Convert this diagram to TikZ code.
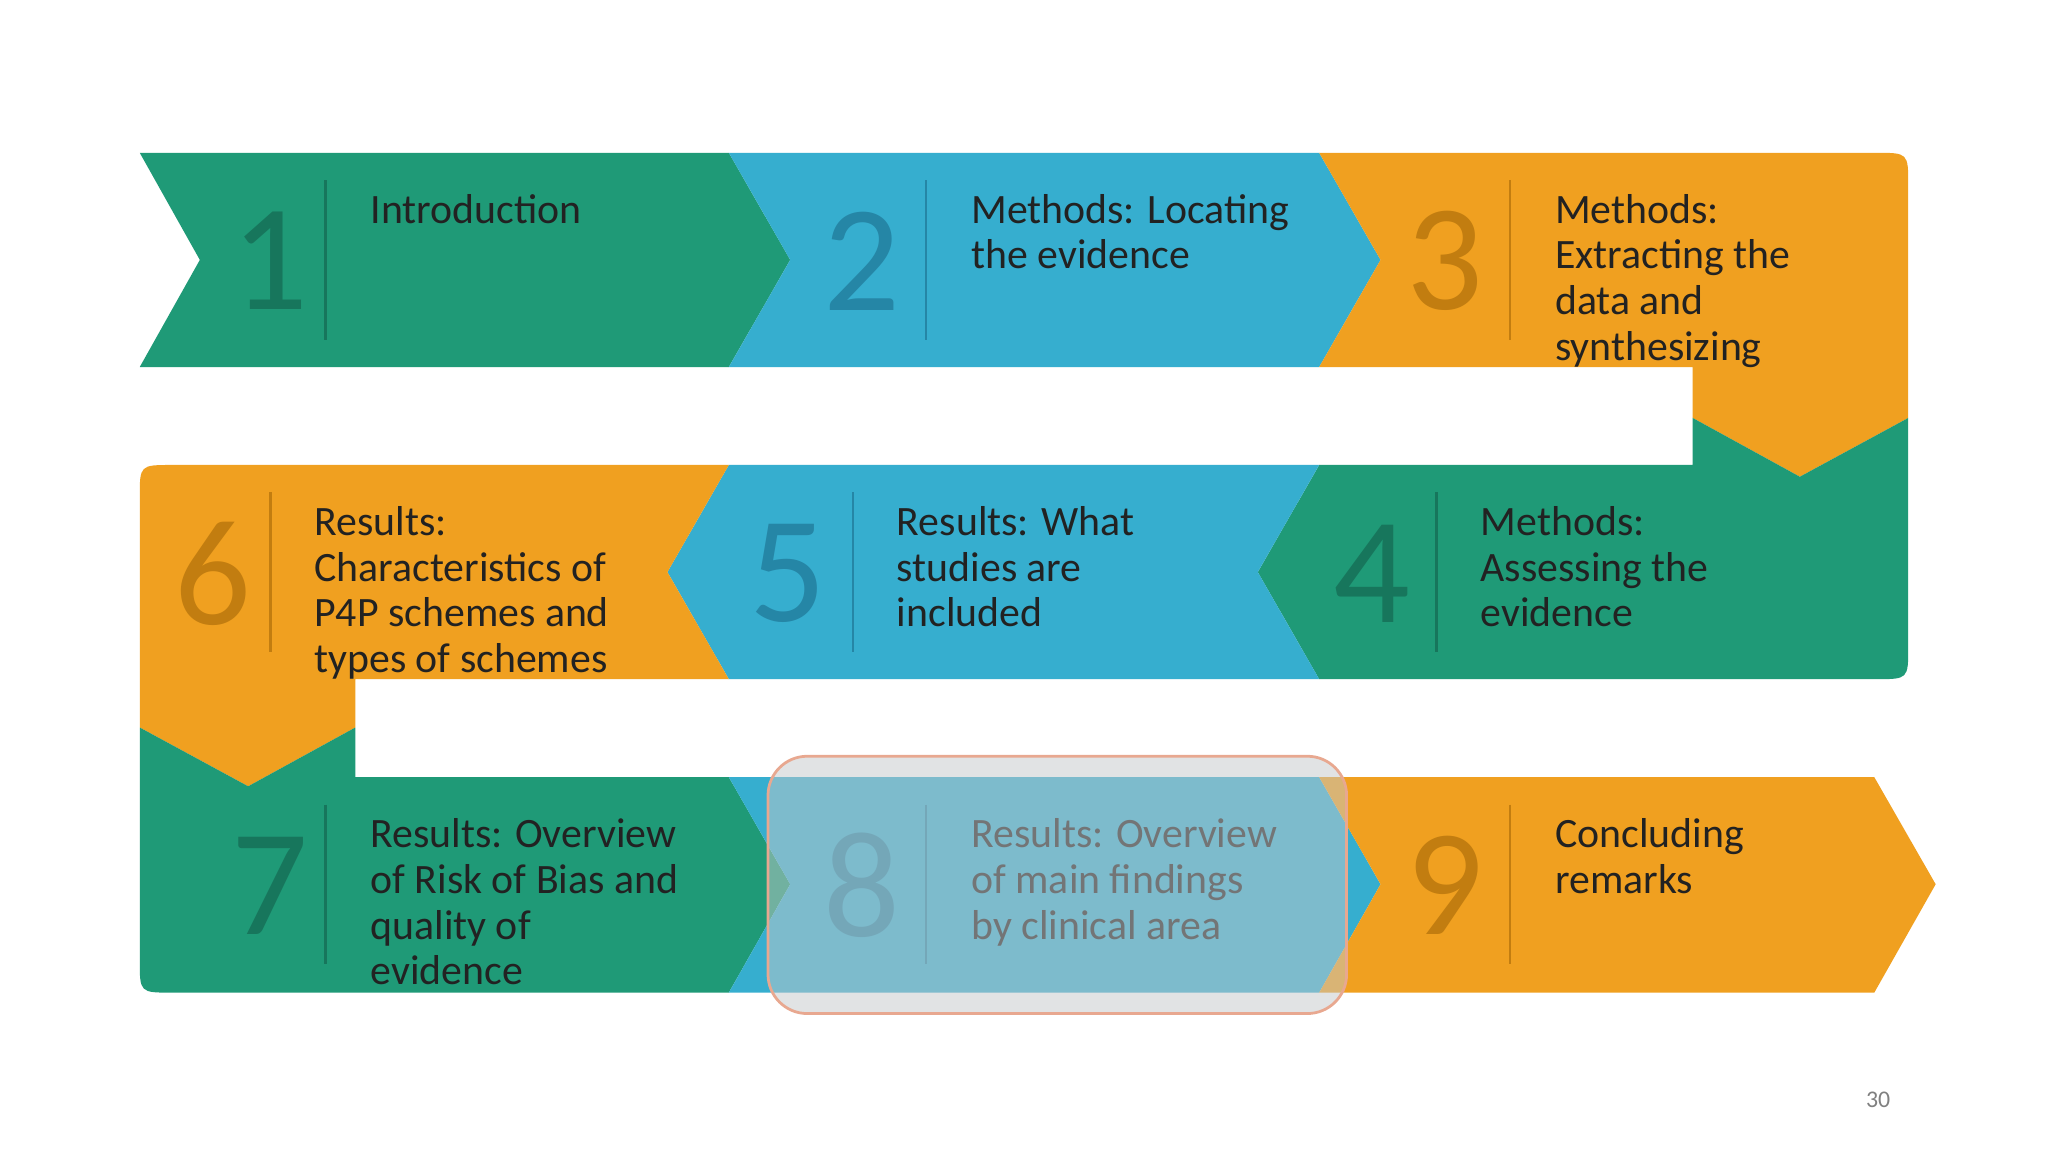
\documentclass[tikz,border=0pt]{standalone}
\usepackage{fontspec}
\setmainfont{Carlito}
\definecolor{gr}{HTML}{1F9A77}
\definecolor{bl}{HTML}{36AECF}
\definecolor{or}{HTML}{F0A020}
\definecolor{grn}{HTML}{17765C}
\definecolor{bln}{HTML}{2586A6}
\definecolor{orn}{HTML}{C27D10}
\definecolor{txt}{HTML}{222222}
\definecolor{hl}{HTML}{C4C8CA}
\definecolor{hlb}{HTML}{E8A890}
\begin{document}
\begin{tikzpicture}[x=0.01cm,y=-0.01cm,
  num/.style={font=\fontsize{33}{33}\selectfont,inner sep=0},
  lab/.style={font=\fontsize{9.1}{9.96}\selectfont,text=txt,anchor=north west,inner sep=0,align=left},
  sep/.style={line width=0.6pt}]
\useasboundingbox (0,0) rectangle (1568,882);
\fill[white] (0,0) rectangle (1568,882);
% row 1
\fill[gr] (107,117) -- (558,117) -- (605,199) -- (558,281) -- (107,281) -- (153,199) -- cycle;
\fill[bl] (558,117) -- (1010,117) -- (1057,199) -- (1010,281) -- (558,281) -- (605,199) -- cycle;
\fill[or] (1010,117) -- (1436,117) .. controls (1461,117) .. (1461,142) -- (1461,320) -- (1378,365) -- (1296,320) -- (1296,281) -- (1010,281) -- (1057,199) -- cycle;
% row 2
\fill[gr] (1010,356) -- (1296,356) -- (1296,320) -- (1378,365) -- (1461,320) -- (1461,495) .. controls (1461,520) .. (1436,520) -- (1010,520) -- (963,438) -- cycle;
\fill[bl] (558,356) -- (1010,356) -- (963,438) -- (1010,520) -- (558,520) -- (511,438) -- cycle;
\fill[or] (558,356) -- (132,356) .. controls (107,356) .. (107,381) -- (107,557) -- (190,602) -- (272,557) -- (272,520) -- (558,520) -- (511,438) -- cycle;
% row 3
\fill[gr] (107,557) -- (190,602) -- (272,557) -- (272,595) -- (558,595) -- (605,677) -- (558,760) -- (132,760) .. controls (107,760) .. (107,735) -- cycle;
\fill[bl] (558,595) -- (1010,595) -- (1057,677) -- (1010,760) -- (558,760) -- (605,677) -- cycle;
\fill[or] (1010,595) -- (1435,595) -- (1482,677) -- (1435,760) -- (1010,760) -- (1057,677) -- cycle;
% cells
\node[num,text=grn] (n1) at (207,200) {1};
\draw[sep,grn] (249,138) -- (249,260);
\node[lab] (t1) at (283,148) {Introduction};
\node[num,text=bln] (n2) at (660,200) {2};
\draw[sep,bln] (709,138) -- (709,260);
\node[lab] (t2) at (743,148) {Methods: Locating\\the evidence};
\node[num,text=orn] (n3) at (1106,200) {3};
\draw[sep,orn] (1156,138) -- (1156,260);
\node[lab] (t3) at (1190,148) {Methods:\\Extracting the\\data and\\synthesizing};
\node[num,text=orn] (n6) at (163,439) {6};
\draw[sep,orn] (207,377) -- (207,499);
\node[lab] (t6) at (240,387) {Results:\\Characteristics of\\P4P schemes and\\types of schemes};
\node[num,text=bln] (n5) at (603,439) {5};
\draw[sep,bln] (653,377) -- (653,499);
\node[lab] (t5) at (686,387) {Results: What\\studies are\\included};
\node[num,text=grn] (n4) at (1050,439) {4};
\draw[sep,grn] (1100,377) -- (1100,499);
\node[lab] (t4) at (1133,387) {Methods:\\Assessing the\\evidence};
\node[num,text=grn] (n7) at (207,678) {7};
\draw[sep,grn] (249,616) -- (249,738);
\node[lab] (t7) at (283,626) {Results: Overview\\of Risk of Bias and\\quality of\\evidence};
\node[num,text=bln] (n8) at (660,678) {8};
\draw[sep,bln] (709,616) -- (709,738);
\node[lab] (t8) at (743,626) {Results: Overview\\of main findings\\by clinical area};
\node[num,text=orn] (n9) at (1106,678) {9};
\draw[sep,orn] (1156,616) -- (1156,738);
\node[lab] (t9) at (1190,626) {Concluding\\remarks};
% highlight overlay
\draw[draw=hlb,line width=0.6pt,fill=hl,fill opacity=0.5,rounded corners=0.3cm] (588,579) rectangle (1031,776);
\node[font=\fontsize{5.2}{6}\selectfont,text=gray] (pg) at (1438,842) {30};
\end{tikzpicture}
\end{document}
